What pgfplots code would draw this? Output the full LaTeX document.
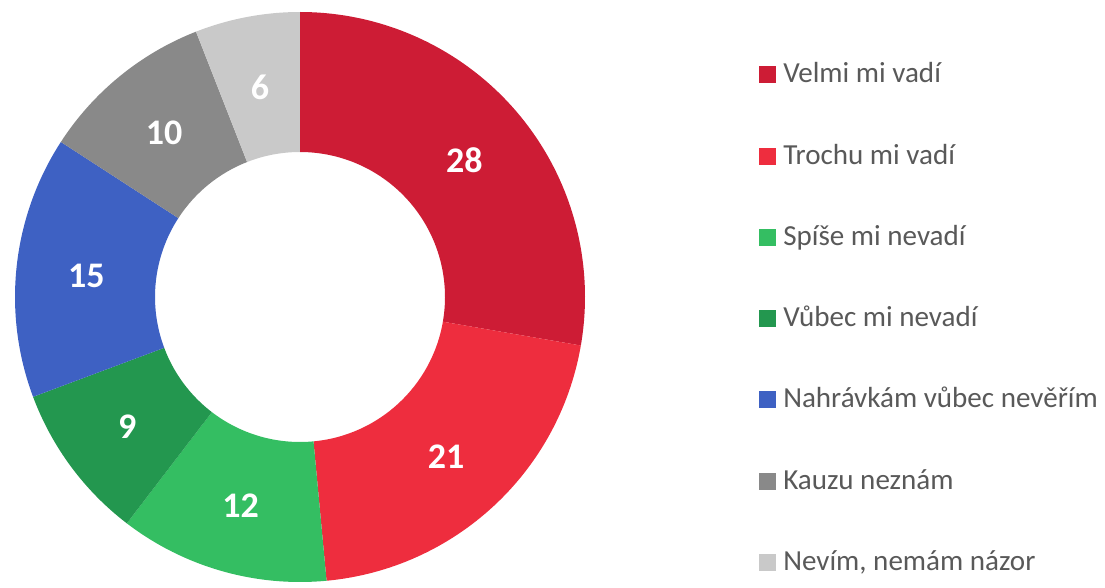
\documentclass[border=0pt]{standalone}
\usepackage{pgfplots}
\pgfplotsset{compat=1.18}
\usepackage{fontspec}
\setmainfont{Carlito}
\definecolor{cVelmi}{HTML}{CD1C35}
\definecolor{cTrochu}{HTML}{EE2D3E}
\definecolor{cSpise}{HTML}{34BE62}
\definecolor{cVubec}{HTML}{23974F}
\definecolor{cNahr}{HTML}{3E61C3}
\definecolor{cKauzu}{HTML}{898989}
\definecolor{cNevim}{HTML}{C9C9C9}
\definecolor{cText}{HTML}{595959}

% values (percent) / colour / legend text
\def\slices{28/cVelmi/Velmi mi vadí,21/cTrochu/Trochu mi vadí,12/cSpise/Spíše mi nevadí,9/cVubec/Vůbec mi nevadí,15/cNahr/Nahrávkám vůbec nevěřím,10/cKauzu/Kauzu neznám,6/cNevim/{Nevím, nemám názor}}
\def\total{101}

\begin{document}
\begin{tikzpicture}
\begin{axis}[
  scale only axis,
  width=828.75pt, height=437.25pt,
  xmin=0, xmax=1105, ymin=0, ymax=583,
  hide axis, clip=false,
]
% keep the whole canvas in the bounding box
\path (rel axis cs:0,0) rectangle (rel axis cs:1,1);
\global\def\acc{90}
\foreach \v/\c/\lab [count=\i] in \slices {
  \pgfmathsetmacro\a{\acc}
  \pgfmathsetmacro\b{\acc-\v/\total*360}
  \pgfmathsetmacro\m{(\a+\b)/2}
  \pgfmathsetmacro\xa{300+285*cos(\a)}
  \pgfmathsetmacro\ya{286+285*sin(\a)}
  \pgfmathsetmacro\xb{300+145*cos(\b)}
  \pgfmathsetmacro\yb{286+145*sin(\b)}
  \pgfmathsetmacro\xm{300+215*cos(\m)}
  \pgfmathsetmacro\ym{284+215*sin(\m)}
  \pgfmathsetmacro\ly{583-(75+81.2*(\i-1))}
  \edef\temp{\noexpand\fill[\c] (axis cs:\xa,\ya) arc[start angle=\a, end angle=\b, radius=213.75pt]
     -- (axis cs:\xb,\yb) arc[start angle=\b, end angle=\a, radius=108.75pt] -- cycle;
    \noexpand\node[text=white, font=\noexpand\fontsize{27}{32}\noexpand\selectfont\noexpand\bfseries] at (axis cs:\xm,\ym) {\v};
    \noexpand\fill[\c] (axis cs:759,\ly-8.5) rectangle (axis cs:776,\ly+8.5);
    \noexpand\node[anchor=base west, inner sep=0pt, text=cText, font=\noexpand\fontsize{21.8}{26}\noexpand\selectfont] at (axis cs:783,\ly-8) {\unexpanded\expandafter{\lab}};
  }
  \temp
  \xdef\acc{\b}
}
\end{axis}
\end{tikzpicture}
\end{document}
